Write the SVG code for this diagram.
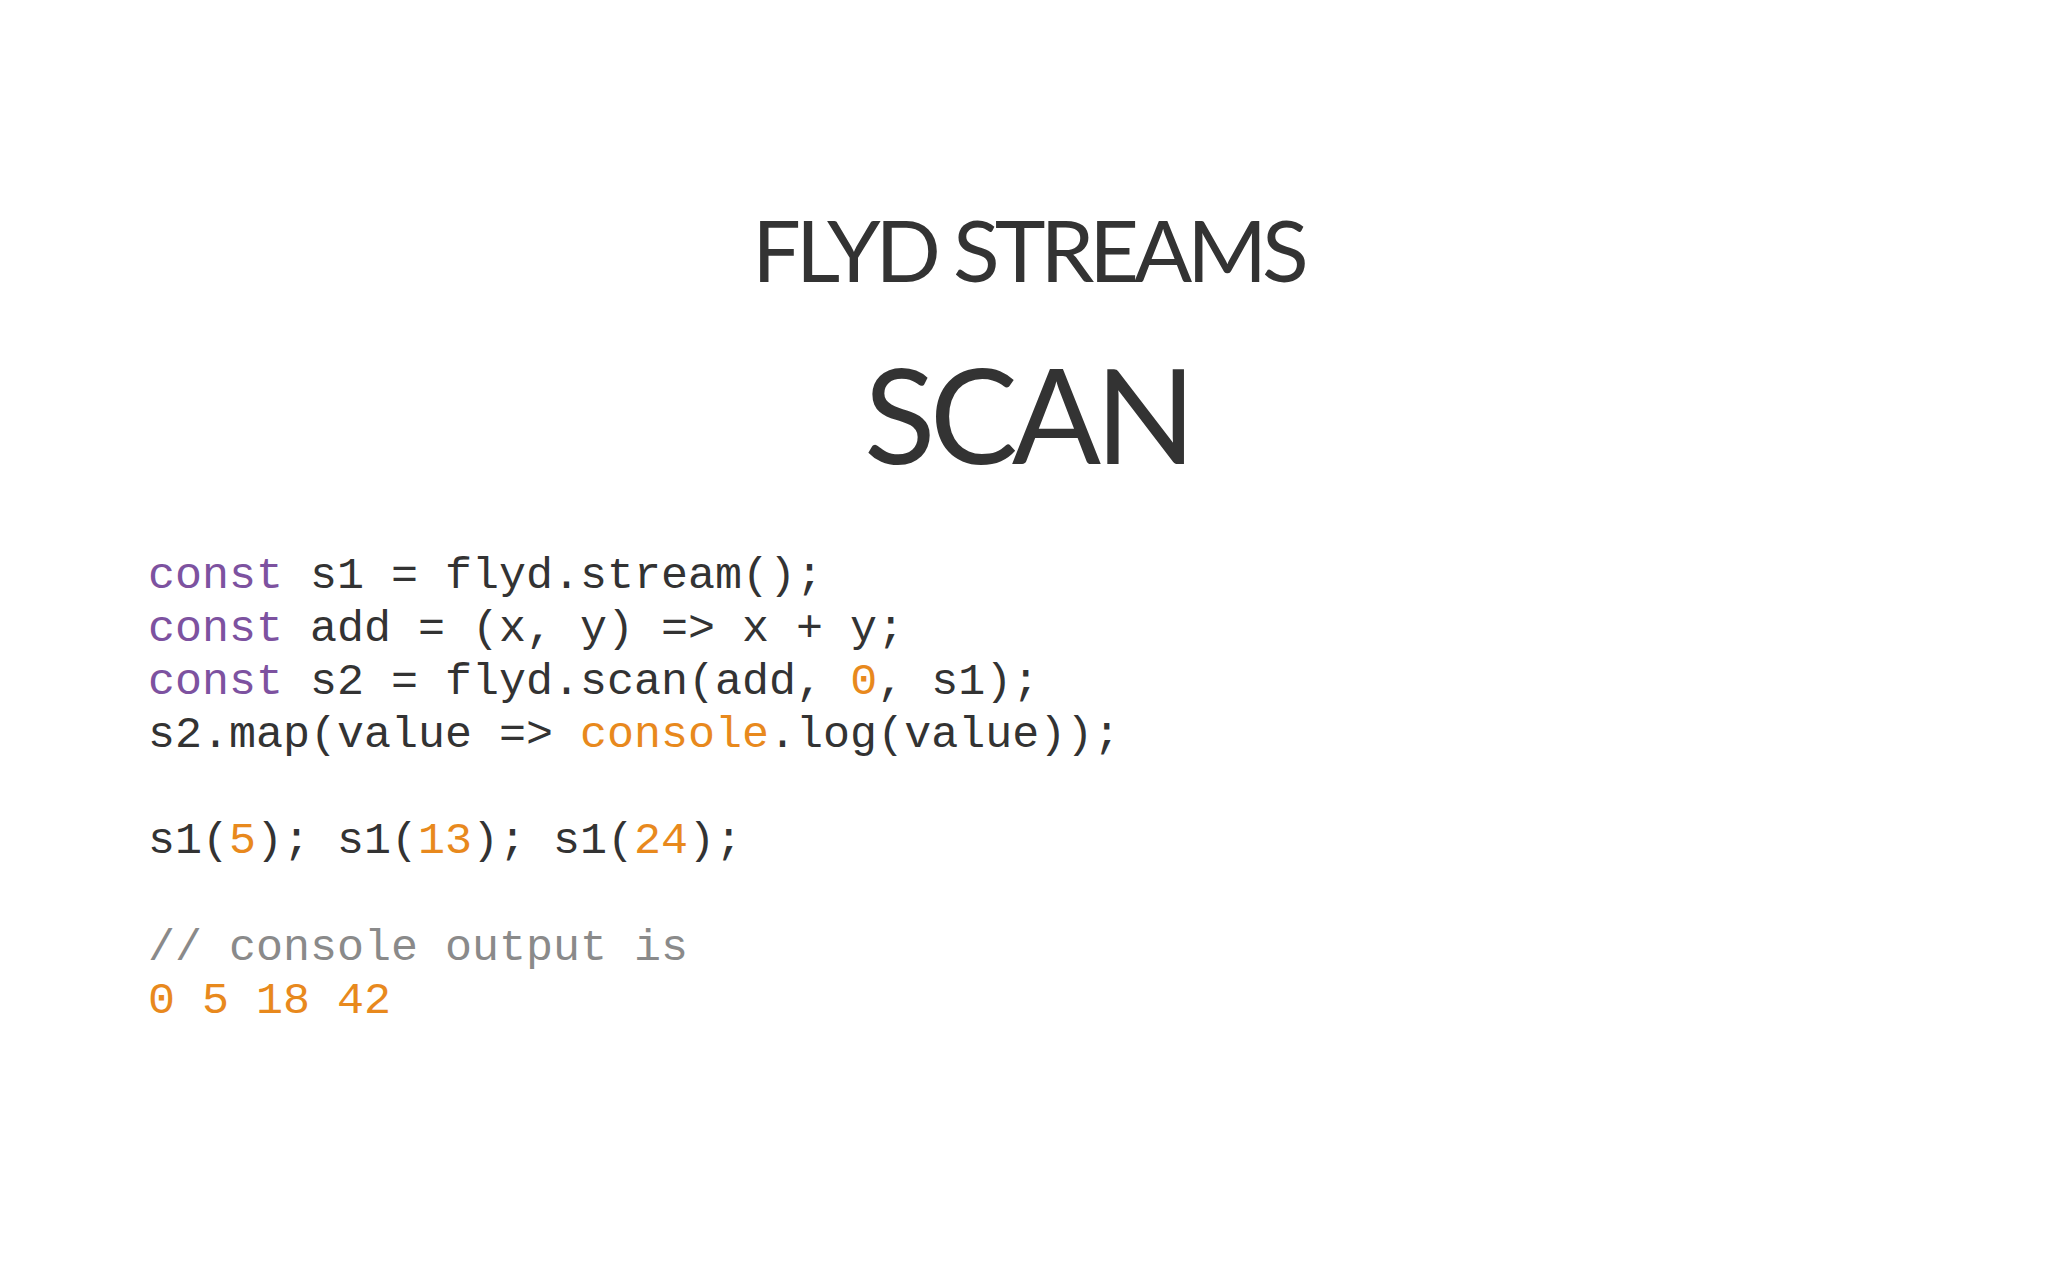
<svg xmlns="http://www.w3.org/2000/svg" width="2048" height="1280" viewBox="0 0 2048 1280">
<style>
.t{font-family:"Lato","Open Sans",sans-serif;fill:#333;text-anchor:middle}
.c{font-family:"Liberation Mono",monospace;font-size:45px;fill:#333;white-space:pre}
.k{fill:#7d52a0}.n{fill:#e8891d}.m{fill:#8a8a8a}
</style>
<rect width="2048" height="1280" fill="#fff"/>
<g id="title"><text class="t" x="1028" y="282" font-size="86" letter-spacing="-5">FLYD STREAMS</text></g>
<g id="subtitle"><text class="t" x="1027" y="464" font-size="132" letter-spacing="-6">SCAN</text></g>
<g id="code">
<text class="c" x="148" y="588"><tspan class="k">const</tspan> s1 = flyd.stream();</text>
<text class="c" x="148" y="641"><tspan class="k">const</tspan> add = (x, y) =&gt; x + y;</text>
<text class="c" x="148" y="694"><tspan class="k">const</tspan> s2 = flyd.scan(add, <tspan class="n">0</tspan>, s1);</text>
<text class="c" x="148" y="747">s2.map(value =&gt; <tspan class="n">console</tspan>.log(value));</text>
<text class="c" x="148" y="853">s1(<tspan class="n">5</tspan>); s1(<tspan class="n">13</tspan>); s1(<tspan class="n">24</tspan>);</text>
<text class="c m" x="148" y="960">// console output is</text>
<text class="c n" x="148" y="1013">0 5 18 42</text>
</g>
</svg>
